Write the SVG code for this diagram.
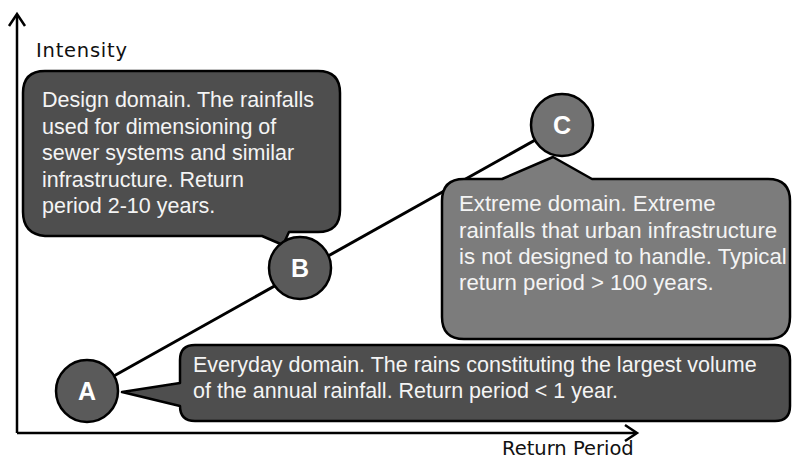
<svg xmlns="http://www.w3.org/2000/svg" width="795" height="461" viewBox="0 0 795 461">
  <defs>
    <style>
      .axis { stroke: #000; stroke-width: 2.5; fill: none; }
      .axislabel { font-family: "DejaVu Sans", sans-serif; font-size: 19.5px; fill: #111; }
      .callout { stroke: #000; stroke-width: 2.5; stroke-linejoin: round; }
      .dark { fill: #4e4e4e; }
      .light { fill: #7c7c7c; }
      .node { fill: #5a5a5a; stroke: #000; stroke-width: 2.5; }
      .nodelabel { font-family: "Liberation Sans", Arial, sans-serif; font-size: 25px; font-weight: bold; fill: #fff; text-anchor: middle; }
      .txt { font-family: "Liberation Sans", Arial, sans-serif; font-size: 21.5px; fill: #f4f4f4; }
      .txt2 { font-family: "Liberation Sans", Arial, sans-serif; font-size: 22.2px; fill: #f4f4f4; }
      .conn { stroke: #000; stroke-width: 3; fill: none; }
    </style>
  </defs>
  <rect width="795" height="461" fill="#fff"/>

  <g id="axes">
    <path class="axis" d="M17 433 V15"/>
    <path class="axis" d="M9 26 L17 14 L25 26"/>
    <path class="axis" d="M17 433 H636"/>
    <path class="axis" d="M625 425 L637 433 L625 441"/>
    <text class="axislabel" x="36" y="57" textLength="91">Intensity</text>
    <text class="axislabel" x="502" y="455">Return Period</text>
  </g>

  <g id="connectors">
    <path class="conn" d="M87 391 L562 125"/>
  </g>

  <g id="design-callout">
    <path class="callout dark" d="M45 71 H318 Q340 71 340 93 V210 Q340 232 318 232 H289 L283 245 L262 236 H45 Q23 234 23 212 V93 Q23 71 45 71 Z"/>
    <text class="txt" x="42" y="107">Design domain. The rainfalls</text>
    <text class="txt" x="42" y="134">used for dimensioning of</text>
    <text class="txt" x="42" y="160">sewer systems and similar</text>
    <text class="txt" x="42" y="187">infrastructure. Return</text>
    <text class="txt" x="42" y="213">period 2-10 years.</text>
  </g>

  <g id="extreme-callout">
    <path class="callout light" d="M464 179 H502 L553 157 L592 179 H768 Q790 179 790 201 V317 Q790 339 768 339 H464 Q442 339 442 317 V201 Q442 179 464 179 Z"/>
    <text class="txt2" x="459" y="211">Extreme domain. Extreme</text>
    <text class="txt2" x="459" y="238">rainfalls that urban infrastructure</text>
    <text class="txt2" x="459" y="264">is not designed to handle. Typical</text>
    <text class="txt2" x="459" y="290">return period &gt; 100 years.</text>
  </g>

  <g id="everyday-callout">
    <path class="callout dark" d="M195 345 H775 Q790 345 790 360 V406 Q790 421 775 421 H195 Q180 421 180 406 L122 392 L180 383 V360 Q180 345 195 345 Z"/>
    <text class="txt" x="193" y="372">Everyday domain. The rains constituting the largest volume</text>
    <text class="txt" x="193" y="398">of the annual rainfall. Return period &lt; 1 year.</text>
  </g>

  <g id="node-A">
    <circle class="node" cx="87" cy="391" r="31"/>
    <text class="nodelabel" x="87" y="400">A</text>
  </g>
  <g id="node-B">
    <circle class="node" cx="300" cy="268" r="31"/>
    <text class="nodelabel" x="300" y="277">B</text>
  </g>
  <g id="node-C">
    <circle class="node" cx="562" cy="125" r="31" style="fill:#727272"/>
    <text class="nodelabel" x="562" y="134">C</text>
  </g>
</svg>
